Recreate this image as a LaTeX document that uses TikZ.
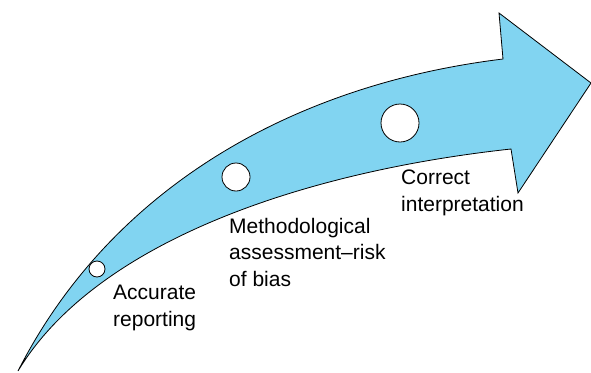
\documentclass[tikz,border=0pt]{standalone}
\usepackage{fontspec}
\setmainfont{Liberation Sans}
\definecolor{arrowblue}{RGB}{129,212,241}

\tikzset{
  stagedot/.style={circle, draw=black, fill=white, line width=0.8pt, inner sep=0pt},
  stagetext/.style={anchor=north west, align=left, inner sep=0pt,
    font=\fontsize{21}{26.5}\selectfont}
}

\begin{document}
\begin{tikzpicture}[x=1pt,y=-1pt]
  \useasboundingbox (0,0) rectangle (591,372);
  % curved arrow
  \filldraw[fill=arrowblue, draw=black, line width=0.8pt]
    (18,371) .. controls (110,190) and (290,85) .. (503,59)
    -- (499,13) -- (591,83) -- (518,193) -- (511,149)
    .. controls (300,172) and (95,243) .. (18,371) -- cycle;
  % stages
  \node[stagedot, minimum size=16pt] (dot1) at (97,269) {};
  \node[stagedot, minimum size=28pt] (dot2) at (236,177) {};
  \node[stagedot, minimum size=38pt] (dot3) at (400,123) {};
  \node[stagetext] (lbl1) at (113,285) {Accurate\\reporting};
  \node[stagetext] (lbl2) at (229,218) {Methodological\\assessment--risk\\of bias};
  \node[stagetext] (lbl3) at (401,170) {Correct\\interpretation};
\end{tikzpicture}
\end{document}
